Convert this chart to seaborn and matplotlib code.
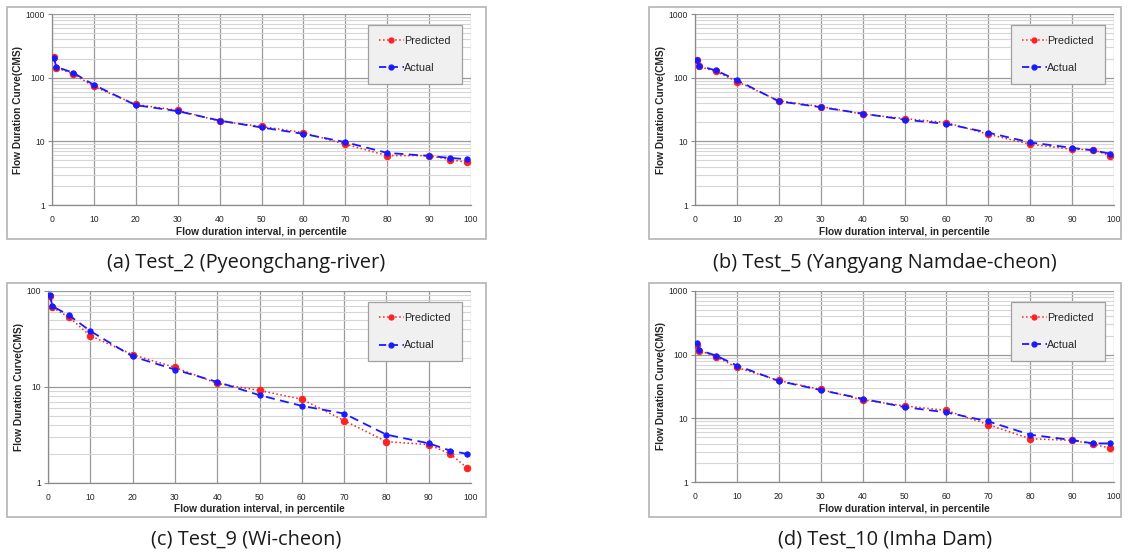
import matplotlib
matplotlib.use("Agg")
import matplotlib.pyplot as plt
from matplotlib.patches import Rectangle
from matplotlib.lines import Line2D
from matplotlib.ticker import LogLocator, NullFormatter, FixedLocator
import seaborn as sns
import pandas as pd
import numpy as np

percentiles = [0.5, 1, 5, 10, 20, 30, 40, 50, 60, 70, 80, 90, 95, 99]

a_pred = [208, 143, 115, 72.7, 37.9, 30.8, 20.7, 17.1, 13.7, 9.0, 5.97, 5.97, 5.17, 4.69]
a_act = [205, 148, 120, 77, 37, 29.8, 21.2, 16.5, 13.1, 9.7, 6.58, 5.9, 5.49, 5.23]

b_pred = [189, 150, 125, 87, 43.3, 35.2, 26.7, 22.8, 19.7, 12.9, 9.0, 7.5, 7.4, 5.97]
b_act = [190, 153, 130, 91.5, 42.5, 34.4, 27.3, 21.9, 18.8, 13.7, 9.6, 7.9, 7.2, 6.42]

c_pred = [88.7, 67.6, 53.1, 34.2, 21.7, 16.0, 10.9, 9.2, 7.46, 4.47, 2.70, 2.51, 2.02, 1.45]
c_act = [90.8, 69.7, 55.7, 38.3, 20.8, 15.2, 11.3, 8.22, 6.36, 5.29, 3.19, 2.59, 2.18, 2.01]

d_pred = [144, 116, 93.5, 62.9, 39.3, 28.4, 19.5, 15.7, 13.3, 7.93, 4.78, 4.50, 3.94, 3.41]
d_act = [150, 118, 96.9, 67.5, 38.6, 27.8, 20.3, 15.0, 12.4, 8.94, 5.53, 4.56, 4.04, 4.04]

captions = ["(a) Test_2 (Pyeongchang-river)", "(b) Test_5 (Yangyang Namdae-cheon)",
            "(c) Test_9 (Wi-cheon)", "(d) Test_10 (Imha Dam)"]
ymaxes = [1000, 1000, 100, 1000]
xlabel = "Flow duration interval, in percentile"
ylabel = "Flow Duration Curve(CMS)"
series_names = ["Predicted", "Actual"]

W, H = 1128, 559
fig = plt.figure(figsize=(W / 100, H / 100), dpi=100)
sns.set_style("white")
plt.rcParams['font.family'] = ['Liberation Sans', 'DejaVu Sans']


def fx(px):
    return px / W


def fy(py):
    return 1 - py / H


# panel geometry in pixels: (axes left, right, top, bottom), frame (l, r, t, b), caption y
panels = [
    ((52, 471, 14, 205), (7, 486, 7, 239), 263),
    ((695, 1114, 14, 205), (649, 1121, 7, 239), 263),
    ((48, 471, 291, 483), (7, 486, 283, 517), 540),
    ((695, 1114, 291, 482), (649, 1121, 283, 517), 540),
]
data = [(a_pred, a_act), (b_pred, b_act), (c_pred, c_act), (d_pred, d_act)]

for i, ((l, r, t, b), (fl, fr, ft, fb), capy) in enumerate(panels):
    # frame
    fig.patches.append(Rectangle((fx(fl), fy(fb)), fx(fr - fl), (fb - ft) / H,
                                 transform=fig.transFigure, fill=False,
                                 edgecolor="#b4b4b4", linewidth=1.2))
    ax = fig.add_axes([fx(l), fy(b), fx(r - l), (b - t) / H])
    pred, act = data[i]
    df = pd.DataFrame({"x": percentiles * 2,
                       "y": pred + act,
                       "series": [series_names[0]] * len(pred) + [series_names[1]] * len(act)})
    dp = df[df.series == "Predicted"]
    da = df[df.series == "Actual"]
    sns.lineplot(data=dp, x="x", y="y", ax=ax, color="#ff2020", linestyle=":", linewidth=1.1,
                 marker="o", markersize=4.6, markeredgecolor="#ff2020", sort=False, zorder=3)
    sns.lineplot(data=da, x="x", y="y", ax=ax, color="#1a1aff", linestyle=(0, (5, 3)), linewidth=1.3,
                 marker="o", markersize=3.8, markeredgecolor="#1a1aff", sort=False, zorder=4)
    ax.set_yscale("log")
    ax.set_xlim(0, 100)
    ax.set_ylim(1, ymaxes[i])
    ax.xaxis.set_major_locator(FixedLocator(list(range(0, 101, 10))))
    ax.yaxis.set_minor_locator(LogLocator(base=10, subs=np.arange(2, 10), numticks=10))
    ax.yaxis.set_minor_formatter(NullFormatter())
    ax.set_yticks([10 ** k for k in range(0, int(np.log10(ymaxes[i])) + 1)])
    ax.set_yticklabels([str(10 ** k) for k in range(0, int(np.log10(ymaxes[i])) + 1)])
    ax.grid(True, which="major", axis="both", color="#9a9a9a", linewidth=0.9)
    ax.grid(True, which="minor", axis="y", color="#d6d6d6", linewidth=0.8)
    ax.set_axisbelow(True)
    for s in ["top", "right"]:
        ax.spines[s].set_visible(False)
    for s in ["left", "bottom"]:
        ax.spines[s].set_color("#8a8a8a")
        ax.spines[s].set_linewidth(0.9)
    ax.tick_params(axis="both", which="major", labelsize=6.2, length=3, color="#8a8a8a",
                   pad=2, direction="out", left=True, bottom=False)
    ax.tick_params(axis="x", which="major", pad=4)
    ax.tick_params(axis="y", which="minor", length=0)
    ax.set_xlabel(xlabel, fontsize=7.3, fontweight="bold", labelpad=2)
    ax.set_ylabel(ylabel, fontsize=7.3, fontweight="bold", labelpad=2)
    handles = [
        Line2D([0], [0], color="#ff2020", linestyle=":", linewidth=1.1, marker="o", markersize=3.5),
        Line2D([0], [0], color="#1a1aff", linestyle=(0, (4, 2.5)), linewidth=1.3, marker="o", markersize=3.5),
    ]
    leg = ax.legend(handles, series_names, loc="upper right",
                    bbox_to_anchor=(0.978, 0.942), fontsize=7.8, frameon=True, fancybox=False,
                    handlelength=2.3, handletextpad=0.05, labelspacing=1.6, borderpad=1.0,
                    borderaxespad=0)
    leg.get_frame().set_facecolor("#f0f0f0")
    leg.get_frame().set_edgecolor("#a0a0a0")
    leg.get_frame().set_linewidth(0.9)
    leg.get_frame().set_alpha(1)
    fig.text(fx((fl + fr) / 2), fy(capy), captions[i], ha="center", va="center",
             fontsize=14.4, family=["Open Sans", "DejaVu Sans"], color="#1a1a1a")

fig.savefig("out.png", dpi=100, facecolor="white")
